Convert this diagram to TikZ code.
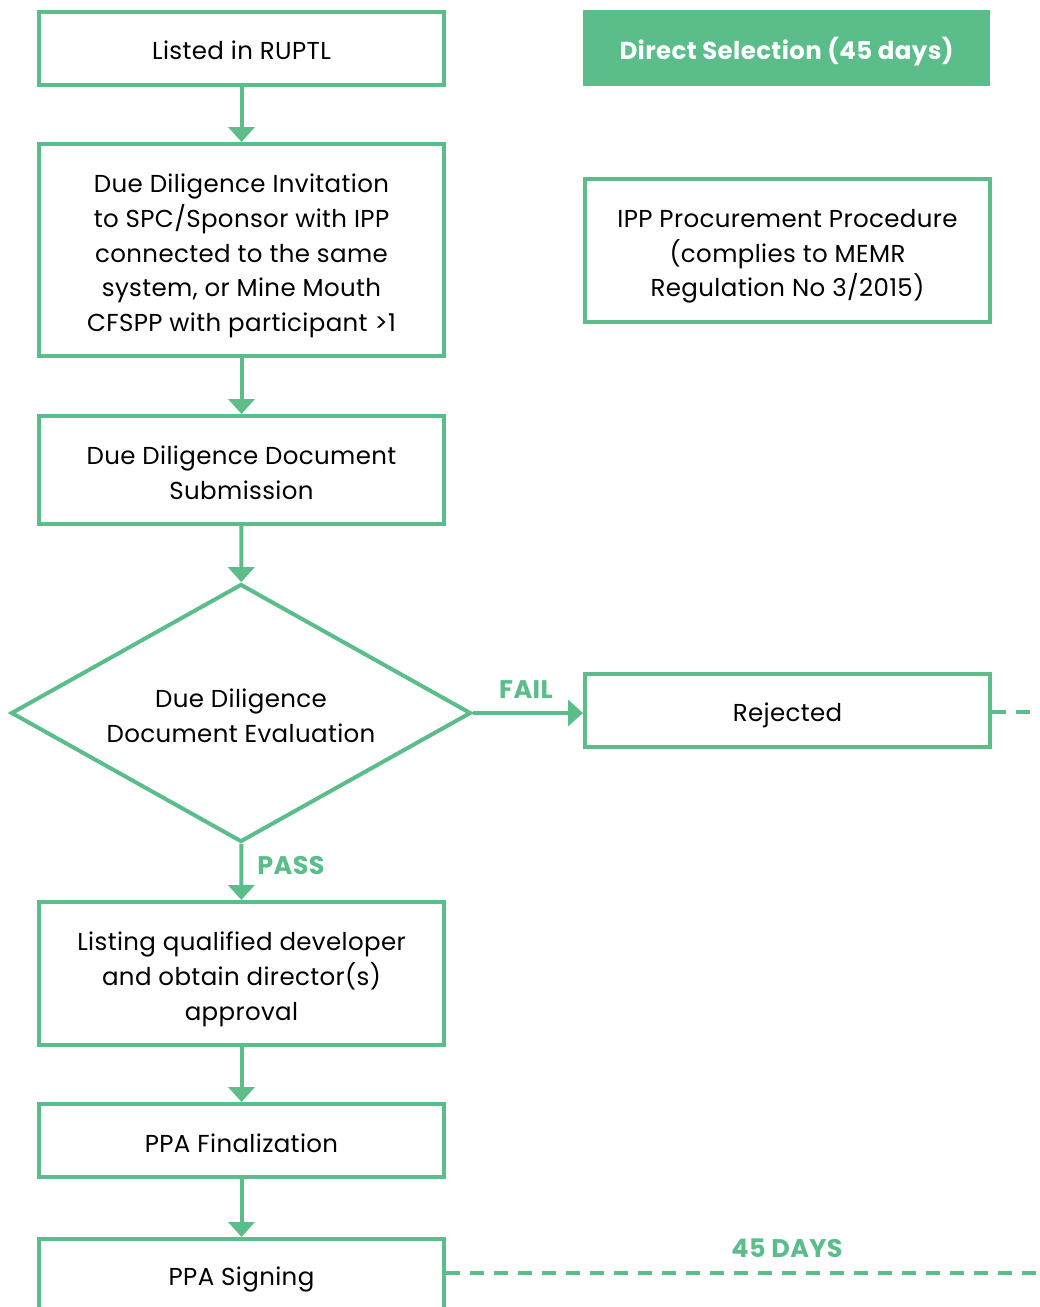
\documentclass[tikz,border=0pt]{standalone}
\usepackage{fontspec}
\setmainfont{Poppins}[LetterSpace=1.5]
\usetikzlibrary{arrows.meta,shapes.geometric}
\definecolor{gr}{HTML}{5BBD8A}
\begin{document}
\begin{tikzpicture}[x=1pt,y=-1pt,
  box/.style={draw=gr,line width=4pt,rectangle,inner sep=0pt,minimum width=405pt},
  txt/.style={align=center,inner sep=0pt,font=\fontsize{24.5}{34.7}\selectfont},
  arr/.style={draw=gr,line width=4pt,-{Triangle[width=26pt,length=15pt]}},
  lbl/.style={text=gr,font=\fontsize{25.5}{28}\selectfont\bfseries,inner sep=0pt},
  dsh/.style={draw=gr,line width=4pt,dash pattern=on 14pt off 10pt}]
\useasboundingbox (0,0) rectangle (1040,1307);
\clip (0,0) rectangle (1040,1307);
\node[box,minimum height=73pt,label={[txt,yshift=-2pt]center:Listed in RUPTL}] (n1) at (241.5,48.5) {};
\node[box,fill=gr,draw=none,minimum width=407pt,minimum height=76pt,
  label={[txt,text=white,font=\fontsize{24.5}{34.7}\selectfont\bfseries,yshift=-4pt]center:Direct Selection (45 days)}] (ds) at (786.5,48) {};
\node[box,minimum height=212pt,label={[txt,yshift=-6pt]center:{Due Diligence Invitation\\to SPC/Sponsor with IPP\\connected to the same\\system, or Mine Mouth\\CFSPP with participant >1}}] (n2) at (241.5,250) {};
\node[box,minimum height=143pt,label={[txt,yshift=-6pt]center:{IPP Procurement Procedure\\(complies to MEMR\\Regulation No 3/2015)}}] (ipp) at (787.5,250.5) {};
\node[box,minimum height=108pt,label={[txt,yshift=-3pt]center:{Due Diligence Document\\Submission}}] (n3) at (241.5,470) {};
\node[draw=gr,line width=4pt,diamond,aspect=1.8,minimum width=460pt,minimum height=258pt,inner sep=0pt,
  label={[txt,yshift=-3pt]center:{Due Diligence\\Document Evaluation}}] (d) at (241,713) {};
\node[box,minimum height=73pt,label={[txt,yshift=-5pt]center:Rejected}] (rej) at (787.5,710) {};
\node[box,minimum height=143pt,label={[txt,yshift=-6pt]center:{Listing qualified developer\\and obtain director(s)\\approval}}] (n4) at (241.5,973.5) {};
\node[box,minimum height=73pt,label={[txt,yshift=-3pt]center:PPA Finalization}] (n5) at (241.5,1140.5) {};
\node[box,minimum height=100pt,anchor=north] (n6) at (241.5,1237) {};
\node[txt] (n6t) at (241.5,1279) {PPA Signing};
\draw[arr] (n1) -- (n2);
\draw[arr] (n2) -- (n3);
\draw[arr] (n3) -- (d);
\draw[arr] (d) -- (n4);
\draw[arr] (n4) -- (n5);
\draw[arr] (n5) -- (n6);
\draw[arr] (d.east) -- (rej.west |- d.east);
\coordinate (e1) at (1040,712);
\coordinate (e2) at (1040,1273);
\draw[dsh] (rej.east |- e1) -- (e1);
\draw[dsh] (n6.east |- e2) -- (e2);
\node[lbl] (fail) at (526,690) {FAIL};
\node[lbl] (pass) at (291,865) {PASS};
\node[lbl] (days) at (787,1248) {45 DAYS};
\end{tikzpicture}
\end{document}
